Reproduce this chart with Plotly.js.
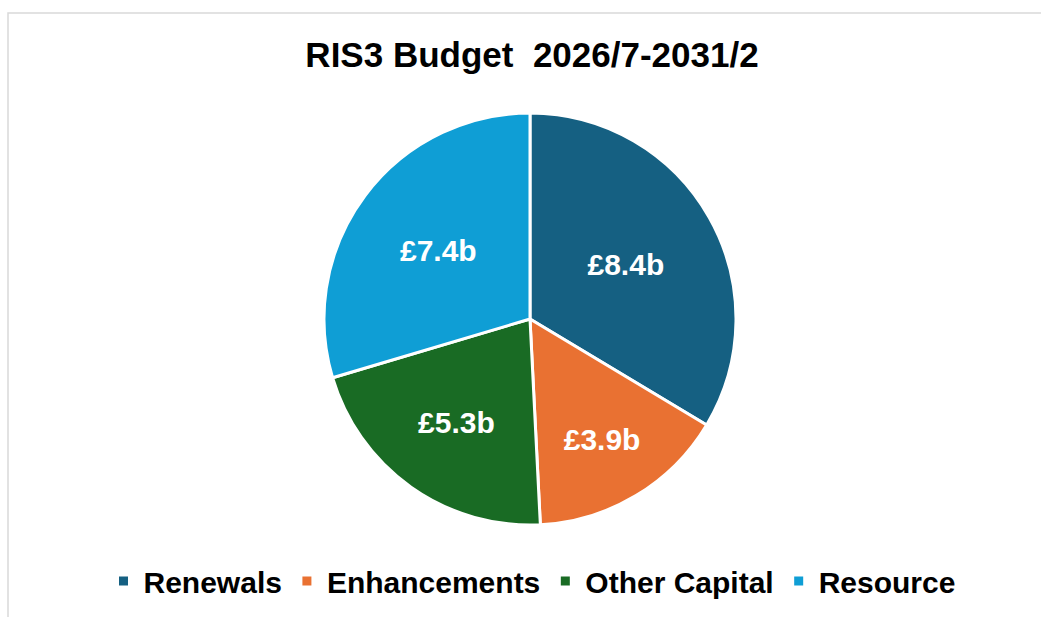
<!DOCTYPE html>
<html>
<head>
<meta charset="utf-8">
<script src="https://cdn.plot.ly/plotly-3.0.1.min.js"></script>
<style>
  html, body { margin: 0; padding: 0; background: #ffffff; }
  #chart { width: 1041px; height: 617px; }
</style>
</head>
<body>
<div id="chart"></div>
<script>
const categories = ["Renewals", "Enhancements", "Other Capital", "Resource"];
const values = [8.4, 3.9, 5.3, 7.4];
const labelsText = ["£8.4b", "£3.9b", "£5.3b", "£7.4b"];
const colors = ["#156082", "#E97132", "#196B24", "#0F9ED5"];
const chartTitle = "RIS3 Budget&nbsp; 2026/7-2031/2";

const W = 1041, H = 617;
const cx = 530, cy = 319, r = 206;

const trace = {
  type: "pie",
  labels: categories,
  values: values,
  text: labelsText,
  textinfo: "text",
  textposition: "inside",
  insidetextorientation: "horizontal",
  sort: false,
  direction: "clockwise",
  rotation: 0,
  marker: { colors: colors, line: { color: "#ffffff", width: 3 } },
  insidetextfont: { family: "Liberation Sans, Arial, sans-serif", size: 30, color: "#ffffff", weight: "bold" },
  domain: { x: [(cx - r) / W, (cx + r) / W], y: [1 - (cy + r) / H, 1 - (cy - r) / H] },
  hoverinfo: "label+value"
};

const layout = {
  width: W, height: H,
  margin: { l: 0, r: 0, t: 0, b: 0 },
  paper_bgcolor: "#ffffff",
  showlegend: true,
  title: {
    text: chartTitle,
    font: { family: "Liberation Sans, Arial, sans-serif", size: 35, color: "#000000", weight: "bold" },
    x: 532 / W, xanchor: "center",
    y: 1 - 55 / H, yanchor: "middle",
    xref: "container", yref: "container"
  },
  legend: {
    orientation: "h",
    x: 532 / W, xanchor: "center",
    y: 1 - 581 / H, yanchor: "middle",
    font: { family: "Liberation Sans, Arial, sans-serif", size: 30, color: "#000000", weight: "bold" },
    traceorder: "normal"
  },
  shapes: [{
    type: "rect", xref: "paper", yref: "paper",
    x0: 8 / W, x1: 1.02, y0: -0.02, y1: 1 - 13 / H,
    line: { color: "#d9d9d9", width: 1.5 }, fillcolor: "rgba(0,0,0,0)"
  }]
};

Plotly.newPlot("chart", [trace], layout, { displayModeBar: false, staticPlot: true });
</script>
</body>
</html>
